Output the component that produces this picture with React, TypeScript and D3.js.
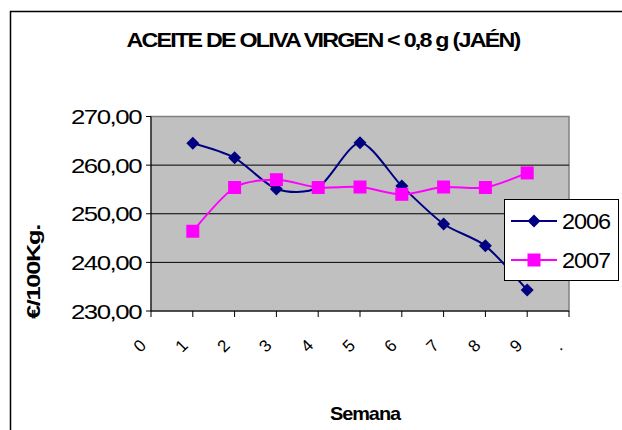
import React from "react";
import * as d3 from "d3";

const weeks = [1, 2, 3, 4, 5, 6, 7, 8, 9];
const series2006 = [264.5, 261.5, 255.1, 255.4, 264.6, 255.7, 247.9, 243.4, 234.3];
const series2007 = [246.4, 255.4, 257.0, 255.4, 255.5, 254.0, 255.5, 255.4, 258.4];
const xTickLabels = ["0", "1", "2", "3", "4", "5", "6", "7", "8", "9", "."];
const yTicks = [230, 240, 250, 260, 270];
const seriesNames = ["2006", "2007"];
const seriesColors = ["#000080", "#FF00FF"];

const W = 622;
const H = 430;
const plot = { left: 151, right: 569, top: 116.5, bottom: 311 };

export default function App() {
  const x = d3.scaleLinear().domain([0, 10]).range([plot.left, plot.right]);
  const y = d3.scaleLinear().domain([230, 270]).range([plot.bottom, plot.top]);
  const line = d3
    .line<number>()
    .x((_, i) => x(weeks[i]))
    .y((d) => y(d))
    .curve(d3.curveCardinal.tension(0.2));
  const data = [series2006, series2007];
  const font = "Arial, 'Liberation Sans', sans-serif";

  const diamond = (cx: number, cy: number, c: string, k: number) => (
    <path
      key={k}
      d={`M${cx},${cy - 6.5}L${cx + 6.5},${cy}L${cx},${cy + 6.5}L${cx - 6.5},${cy}Z`}
      fill={c}
    />
  );
  const square = (cx: number, cy: number, c: string, k: number) => (
    <rect key={k} x={cx - 6.5} y={cy - 6.5} width={13} height={13} fill={c} />
  );
  const markers = [diamond, square];

  return (
    <svg
      width={W}
      height={H}
      style={{ position: "absolute", left: 0, top: 0, background: "#fff" }}
      fontFamily={font}
    >
      <rect x={10.5} y={11.5} width={700} height={500} fill="#fff" stroke="#000" strokeWidth={1.5} />
      <text
        x={323}
        y={47}
        textAnchor="middle"
        fontWeight="bold"
        fontSize={21}
        letterSpacing={-1.6}
        textLength={393}
        lengthAdjust="spacingAndGlyphs"
      >
        ACEITE DE OLIVA VIRGEN &lt; 0,8 g (JAÉN)
      </text>
      <rect
        x={plot.left}
        y={plot.top}
        width={plot.right - plot.left}
        height={plot.bottom - plot.top}
        fill="#C0C0C0"
        stroke="#808080"
        strokeWidth={1.5}
      />
      {yTicks.slice(1, -1).map((t) => (
        <line key={t} x1={plot.left} x2={plot.right} y1={y(t)} y2={y(t)} stroke="#000" strokeWidth={1} />
      ))}
      <line x1={plot.left} x2={plot.left} y1={plot.top} y2={plot.bottom} stroke="#000" strokeWidth={1} />
      <line x1={plot.left} x2={plot.right} y1={plot.bottom} y2={plot.bottom} stroke="#000" strokeWidth={1} />
      {yTicks.map((t) => (
        <g key={t}>
          <line x1={plot.left - 5} x2={plot.left} y1={y(t)} y2={y(t)} stroke="#000" />
          <text
            x={141}
            y={y(t) + 7.5}
            textAnchor="end"
            fontSize={21}
            letterSpacing={-1.2}
            textLength={70}
            lengthAdjust="spacingAndGlyphs"
          >
            {t.toFixed(2).replace(".", ",")}
          </text>
        </g>
      ))}
      {xTickLabels.map((lab, i) => (
        <g key={i}>
          <line x1={x(i)} x2={x(i)} y1={plot.bottom} y2={plot.bottom + 6} stroke="#000" />
          <text
            transform={`translate(${x(i) - 11},${plot.bottom + 35}) rotate(-45)`}
            textAnchor="middle"
            dominantBaseline="central"
            fontSize={17}
          >
            {lab}
          </text>
        </g>
      ))}
      {data.map((s, si) => (
        <g key={si}>
          <path d={line(s) || ""} fill="none" stroke={seriesColors[si]} strokeWidth={2} />
          {s.map((v, i) => markers[si](x(weeks[i]), y(v), seriesColors[si], i))}
        </g>
      ))}
      <g>
        <rect x={504.5} y={199.5} width={114} height={81} fill="#fff" stroke="#000" strokeWidth={1} />
        {seriesNames.map((n, i) => {
          const cy = 221 + i * 39;
          return (
            <g key={n}>
              <line x1={511} x2={557} y1={cy} y2={cy} stroke={seriesColors[i]} strokeWidth={2} />
              {markers[i](534, cy, seriesColors[i], i)}
              <text x={562} y={cy + 8} fontSize={22} letterSpacing={-1} textLength={48} lengthAdjust="spacingAndGlyphs">
                {n}
              </text>
            </g>
          );
        })}
      </g>
      <text
        transform="translate(40,272) rotate(-90)"
        textAnchor="middle"
        fontWeight="bold"
        fontSize={19}
        letterSpacing={-1}
        textLength={94}
        lengthAdjust="spacingAndGlyphs"
      >
        €/100Kg.
      </text>
      <text
        x={365}
        y={420}
        textAnchor="middle"
        fontWeight="bold"
        fontSize={19}
        letterSpacing={-1}
        textLength={70}
        lengthAdjust="spacingAndGlyphs"
      >
        Semana
      </text>
    </svg>
  );
}
